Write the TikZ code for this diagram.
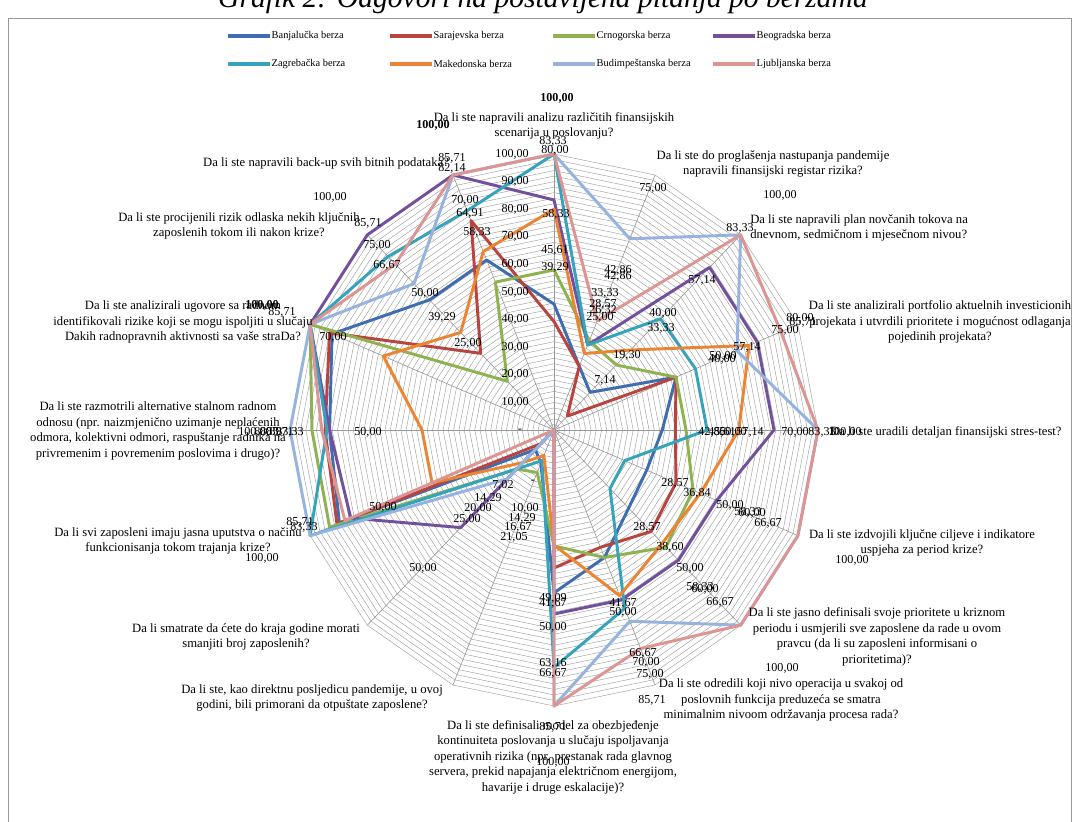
\documentclass[tikz,border=0pt]{standalone}
\usepackage{fontspec}
\setmainfont{Liberation Serif}
\definecolor{banja}{HTML}{3F6DB0}
\definecolor{saraj}{HTML}{B8433F}
\definecolor{crno}{HTML}{8FB250}
\definecolor{beog}{HTML}{72509C}
\definecolor{zagr}{HTML}{35A3BC}
\definecolor{maked}{HTML}{EC8533}
\definecolor{budim}{HTML}{95B3DE}
\definecolor{ljubl}{HTML}{DC9593}
% one series: colour, value on the top axis, the other 15 values clockwise
\newcommand\radar[3]{\draw[serie,#1] (90:#2) \foreach \v [count=\k] in {#3} {-- (90-22.5*\k:\v)} -- cycle;}
\begin{document}
\begin{tikzpicture}[x=0.025cm,y=-0.025cm,font=\fontsize{9}{11}\selectfont,
  grid/.style={gray!75,line width=0.32pt},
  axisline/.style={gray!80,line width=0.45pt},
  serie/.style={line width=2.1pt,line join=round},
  quest/.style={align=center,inner sep=0pt},
  dlab/.style={inner sep=0pt,font=\fontsize{8.6}{8.6}\selectfont},
  legline/.style={line width=2.6pt}]
  \useasboundingbox (0,0) rectangle (1076,821);
  \clip (0,0) rectangle (1076,821);

  % title and frame
  \node[anchor=base,font=\itshape\fontsize{21}{21}\selectfont] (title) at (543,8) {Grafik 2: Odgovori na postavljena pitanja po berzama};
  \draw[gray!80,line width=0.6pt] (8,830) -- (8,18) -- (1071,18) -- (1071,830);

  % legend
  \foreach \col/\txt/\x/\y [count=\i] in {banja/Banjalučka berza/228/36, saraj/Sarajevska berza/390/36,
      crno/Crnogorska berza/553/36, beog/Beogradska berza/713/36, zagr/Zagrebačka berza/228/64,
      maked/Makedonska berza/390/64, budim/Budimpeštanska berza/553/64, ljubl/Ljubljanska berza/713/64} {
    \draw[legline,\col] (\x,\y) -- ++(42,0);
    \node[anchor=west,inner sep=1pt,font=\fontsize{7.4}{7.4}\selectfont] (leg\i) at (\x+42,\y) {\txt};
  }

  % radar grid, axes and series
  \begin{scope}[shift={(554,430)},xscale=2.64,yscale=-2.76]
    \foreach \r in {2,4,...,100}
      \draw[grid] (90:\r) \foreach \k in {1,...,15} {-- (90-22.5*\k:\r)} -- cycle;
    \foreach \k in {0,...,15}
      \draw[axisline] (0,0) -- (90-22.5*\k:100);

    \radar{banja}{45.61}{25,19.3,50,41,38,40,50,59,13,10,88,85,91,66.67,66.67}
    \radar{saraj}{39.29}{25,7.14,50,46,50,52,46,50,0,7.02,89,86.7,92,39.29,82.14}
    \radar{crno}{58}{35,33.33,50,50,57,60,50,42,16.67,20,92,91.7,100,25,58}
    \radar{beog}{83.33}{33.33,83.33,83.33,83.33,66.67,66.67,66.67,66.67,0,50,83.33,85,100,100,100}
    \radar{zagr}{100}{33.33,57,58,58,29,30,70,86,12,20,100,86,100,88.89,86}
    \radar{maked}{80}{30,41,80,70,60,58,65,41.67,10,16.67,50,50,70,50,70}
    \radar{budim}{100}{75,100,75,100,100,100,75,100,0,25,100,100,100,75,100}
    \radar{ljubl}{100}{42.86,100,93,100,100,100,85.71,100,0,0,85.71,88,100,85,100}
  \end{scope}

  % value axis
  \foreach \v [count=\i] in {10,20,...,100}
    \node[dlab,anchor=east] (ax\i) at (529,{430-2.76*\v}) {\v,00};
  \node[dlab] (ax0) at (520,431) {-};

  % questions
  \node[quest] (q0) at (554,126) {Da li ste napravili analizu različitih finansijskih\\scenarija u poslovanju?};
  \node[quest] (q1) at (773,164) {Da li ste do proglašenja nastupanja pandemije\\napravili finansijski registar rizika?};
  \node[quest,align=left,anchor=west] (q2) at (750,228) {Da li ste napravili plan novčanih tokova na\\dnevnom, sedmičnom i mjesečnom nivou?};
  \node[quest] (q3) at (940,322) {Da li ste analizirali portfolio aktuelnih investicionih\\projekata i utvrdili prioritete i mogućnost odlaganja\\pojedinih projekata?};
  \node[quest,anchor=west] (q4) at (830,432) {Da li ste uradili detaljan finansijski stres-test?};
  \node[quest] (q5) at (922,543) {Da li ste izdvojili ključne ciljeve i indikatore\\uspjeha za period krize?};
  \node[quest] (q6) at (877,637) {Da li ste jasno definisali svoje prioritete u kriznom\\periodu i usmjerili sve zaposlene da rade u ovom\\pravcu (da li su zaposleni informisani o\\prioritetima)?};
  \node[quest] (q7) at (781,700) {Da li ste odredili koji nivo operacija u svakoj od\\poslovnih funkcija preduzeća se smatra\\minimalnim nivoom održavanja procesa rada?};
  \node[quest] (q8) at (553,757) {Da li ste definisali model za obezbjeđenje\\kontinuiteta poslovanja u slučaju ispoljavanja\\operativnih rizika (npr. prestanak rada glavnog\\servera, prekid napajanja električnom energijom,\\havarije i druge eskalacije)?};
  \node[quest] (q9) at (312,698) {Da li ste, kao direktnu posljedicu pandemije, u ovoj\\godini, bili primorani da otpuštate zaposlene?};
  \node[quest] (q10) at (246,637) {Da li smatrate da ćete do kraja godine morati\\smanjiti broj zaposlenih?};
  \node[quest] (q11) at (178,541) {Da li svi zaposleni imaju jasna uputstva o načinu\\funkcionisanja tokom trajanja krize?};
  \node[quest] (q12) at (158,431) {Da li ste razmotrili alternative stalnom radnom\\odnosu (npr. naizmjenično uzimanje neplaćenih\\odmora, kolektivni odmori, raspuštanje radnika na\\privremenim i povremenim poslovima i drugo)?};
  \node[quest] (q13) at (183,322) {Da li ste analizirali ugovore sa radnom\\identifikovali rizike koji se mogu ispoljiti u slučaju\\Dakih radnopravnih aktivnosti sa vaše straDa?};
  \node[quest] (q14) at (239,226) {Da li ste procijenili rizik odlaska nekih ključnih\\zaposlenih tokom ili nakon krize?};
  \node[quest] (q15) at (326,163) {Da li ste napravili back-up svih bitnih podataka?};

  % data labels
  \foreach \x/\y/\t [count=\i] in {553/141/83{,}33, 555/150/80{,}00, 556/214/58{,}33, 555/250/45{,}61, 555/267/39{,}29,
      452/158/85{,}71, 452/168/82{,}14, 465/200/70{,}00, 470/213/64{,}91, 477/232/58{,}33,
      618/270/42{,}86, 618/276/42{,}86, 605/293/33{,}33, 603/304/28{,}57, 603/310/26{,}32, 600/317/25{,}00, 653/188/75{,}00,
      740/228/83{,}33, 702/280/57{,}14, 663/313/40{,}00, 661/328/33{,}33, 627/355/19{,}30, 605/380/7{,}14,
      785/330/75{,}00, 800/318/80{,}00, 803/322/85{,}71, 747/347/57{,}14, 723/356/50{,}00, 722/359/40{,}00,
      712/432/42{,}86, 722/432/45{,}61, 733/432/50{,}00, 750/432/57{,}14, 795/432/70{,}00, 822/432/83{,}33,
      675/483/28{,}57, 697/493/36{,}84, 730/505/50{,}00, 748/512/58{,}33, 752/513/60{,}00, 768/523/66{,}67,
      647/527/28{,}57, 670/547/38{,}60, 690/568/50{,}00, 700/587/58{,}33, 705/589/60{,}00, 720/602/66{,}67,
      623/603/41{,}67, 623/612/50{,}00, 643/653/66{,}67, 646/662/70{,}00, 650/674/75{,}00, 652/700/85{,}71,
      553/598/49{,}09, 553/603/41{,}67, 553/627/50{,}00, 553/663/63{,}16, 553/673/66{,}67, 553/727/85{,}71,
      533/482/-, 525/508/10{,}00, 522/518/14{,}29, 518/527/16{,}67, 514/537/21{,}05,
      503/485/7{,}02, 488/498/14{,}29, 478/508/20{,}00, 467/519/25{,}00,
      383/507/50{,}00, 300/522/85{,}71, 304/527/83{,}33, 423/568/50{,}00,
      368/432/50{,}00, 268/432/88{,}89, 280/432/85{,}71, 290/432/83{,}33, 282/312/85{,}71, 333/337/70{,}00,
      368/223/85{,}71, 377/245/75{,}00, 387/265/66{,}67, 425/293/50{,}00, 442/317/39{,}29, 468/343/25{,}00,
      330/197/100{,}00, 780/195/100{,}00, 845/432/100{,}00, 852/560/100{,}00, 782/668/100{,}00,
      553/762/100{,}00, 262/558/100{,}00, 255/432/100{,}00}
    \node[dlab] (dl\i) at (\x,\y) {\t};
  \foreach \x/\y [count=\i] in {557/98, 433/125, 262/305}
    \node[dlab,font=\bfseries\fontsize{8.6}{8.6}\selectfont] (bl\i) at (\x,\y) {100,00};
\end{tikzpicture}
\end{document}
